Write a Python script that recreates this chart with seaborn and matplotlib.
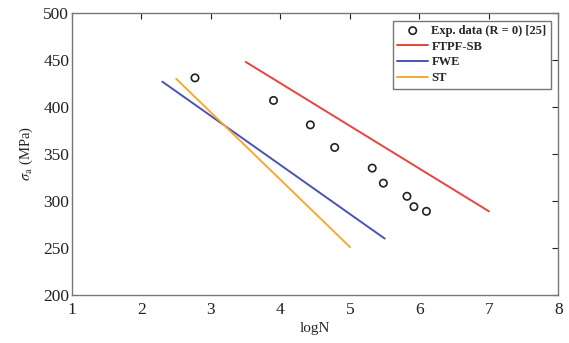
import matplotlib
matplotlib.use("Agg")
import matplotlib.pyplot as plt
import seaborn as sns

sns.set_theme(style="white")
plt.rcParams['font.family'] = ['Liberation Serif', 'DejaVu Serif']
plt.rcParams['mathtext.fontset'] = 'stix'

# Experimental data
exp_logN = [2.77, 3.90, 4.43, 4.78, 5.32, 5.48, 5.82, 5.92, 6.10]
exp_sigma = [431, 407, 381, 357, 335, 319, 305, 294, 289]

# Model lines (end points)
ftpf_logN = [3.5, 7.0]
ftpf_sigma = [448, 289]
fwe_logN = [2.3, 5.5]
fwe_sigma = [427, 260]
st_logN = [2.5, 5.0]
st_sigma = [430, 251]

fig = plt.figure(figsize=(5.69, 3.43), dpi=100)
ax = fig.add_axes([0.1265, 0.14, 0.855, 0.822])

sns.scatterplot(x=exp_logN, y=exp_sigma, ax=ax, marker='o', s=28,
                facecolors='none', edgecolor='#222222', linewidth=1.2,
                label='Exp. data (R = 0) [25]')
sns.lineplot(x=ftpf_logN, y=ftpf_sigma, ax=ax, color='#e8433d', lw=1.4, label='FTPF-SB')
sns.lineplot(x=fwe_logN, y=fwe_sigma, ax=ax, color='#4b52b3', lw=1.4, label='FWE')
sns.lineplot(x=st_logN, y=st_sigma, ax=ax, color='#f7a930', lw=1.4, label='ST')

ax.set_xlim(1, 8)
ax.set_ylim(200, 500)
ax.set_xticks(range(1, 9))
ax.set_yticks(range(200, 501, 50))
ax.tick_params(direction='in', top=True, right=True, length=4, width=0.8,
               labelsize=12.5, colors='#222222')
ax.tick_params(axis='x', pad=5)
ax.tick_params(axis='y', pad=2)
for s in ax.spines.values():
    s.set_color('#777777')
    s.set_linewidth(1.0)

ax.set_xlabel('logN', fontsize=11, labelpad=3)
ax.set_ylabel(r'$\sigma_{\rm a}$ (MPa)', fontsize=10.5, labelpad=6)

leg = ax.legend(loc='upper right', fontsize=9, frameon=True, fancybox=False,
                edgecolor='#555555', borderaxespad=0.6, handlelength=2.5,
                labelspacing=0.3, borderpad=0.35, handletextpad=0.25)
leg.get_frame().set_linewidth(1.0)
for t in leg.get_texts():
    t.set_fontweight('bold')

fig.savefig('out.png', dpi=100)
